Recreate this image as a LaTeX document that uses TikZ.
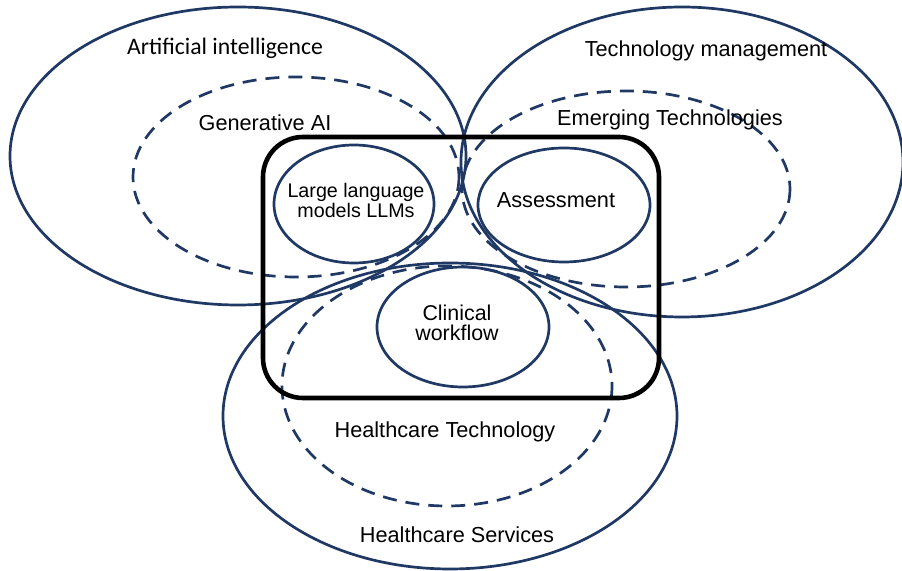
\documentclass[tikz,border=0pt]{standalone}
\usepackage{fontspec}
\setmainfont{Liberation Sans}
\newfontfamily\califont{Carlito}
\usepackage{tkz-euclide}
\definecolor{navy}{HTML}{1F3864}
\tikzset{ring/.style = {draw = navy, line width = 1.35pt}}
\tikzset{dashring/.style = {ring, dash pattern = on 7pt off 4.5pt}}
\tikzset{txt/.style = {inner sep = 0pt, align = center, font = \fontsize{10.85}{13}\selectfont}}

\begin{document}
\begin{tikzpicture}[x = 0.5pt, y = -0.5pt]
\useasboundingbox (0,0) rectangle (902,571);
\tkzDefPoints{238/156/AI, 682/162/TM, 450/416/HS, 296/177/GA, 626/189/ET, 447/386/HT, 354/204/LL, 564/205/AS, 463/327/CW}
% outer fields
\draw[ring] (AI) ellipse (228 and 149);
\draw[ring] (TM) ellipse (221 and 155);
\draw[ring] (HS) ellipse (227 and 153);
% sub fields
\draw[dashring] (GA) ellipse (163 and 100);
\draw[dashring] (ET) ellipse (164 and 98);
\draw[dashring] (HT) ellipse (165 and 120);
% focus of the study
\draw[line width = 2.3pt, rounded corners = 20pt] (263,137) rectangle (659,398);
\draw[ring] (LL) ellipse (80 and 59);
\draw[ring] (AS) ellipse (86 and 57);
\draw[ring] (CW) ellipse (86 and 60);
% labels
\node[txt, font = \califont\fontsize{11.85}{14}\selectfont] (ailbl) at (225,48) {Artificial intelligence};
\node[txt] (galbl) at (265,123) {Generative AI};
\node[txt] (tmlbl) at (706,51) {Technology management};
\node[txt] (etlbl) at (670,120) {Emerging Technologies};
\node[txt, font = \fontsize{9.85}{10}\selectfont] (lllbl) at (356,200) {Large language\\models LLMs};
\node[txt] (aslbl) at (556,200) {Assessment};
\node[txt, font = \fontsize{10.7}{10}\selectfont] (cwlbl) at (457,323) {Clinical\\workflow};
\node[txt] (htlbl) at (445,432) {Healthcare Technology};
\node[txt] (hslbl) at (457,535) {Healthcare Services};
\end{tikzpicture}
\end{document}
